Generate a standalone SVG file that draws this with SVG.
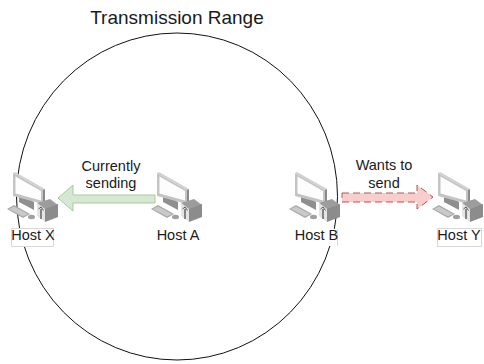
<svg xmlns="http://www.w3.org/2000/svg" width="484" height="364" viewBox="0 0 484 364">
<style>
text{font-family:"Liberation Sans",Arial,sans-serif;font-size:14.500px;fill:#1a1a1a;text-anchor:middle}
.title{font-size:19px}
.lb{fill:#fff;stroke:#d8d8d8;stroke-width:1}
</style>
<defs>
<g id="pc">
<path d="M12 22 L27 30 L27 38 L12 30Z" fill="#8f8f8f"/>
<path d="M6 1 L8 0 L38 17 L36 18Z" fill="#d0d0d0"/>
<path d="M36 18 L38 17 L38 31 L36 32Z" fill="#8a8a8a"/>
<path d="M6 1 L36 18 L36 32 L6 24Z" fill="#c4c4c4"/>
<path d="M8.500 4.500 L34 19 L34 28.500 L8.500 21.500Z" fill="#fdfdfd"/>
<path d="M0 37 L7 33 L23 42 L16 46Z" fill="#a8a8a8"/>
<path d="M2 37 L7 34.500 L21 42 L16 44.500Z" fill="#c9c9c9"/>
<ellipse cx="24.500" cy="45" rx="3.500" ry="2.200" fill="#a0a0a0"/>
<path d="M30 31 L43 27 L51 33 L38 38Z" fill="#9d9d9d"/>
<path d="M30 31 L38 37 L38 50 L30 44Z" fill="#e4e4e4"/>
<path d="M38 37 L51 32 L51 45 L38 50Z" fill="#8c8c8c"/>
<path d="M34 37 L34 47" stroke="#444" stroke-width="1.200" fill="none"/>
<path d="M31.500 37 L34 35 L36.500 38.500" stroke="#555" stroke-width="1" fill="none"/>
</g>
</defs>
<ellipse cx="177" cy="196.500" rx="160.500" ry="163.500" fill="#fff" stroke="#111" stroke-width="1"/>
<g id="connectors">
<path id="arrow-a-x" d="M155 195 L155 203 L73 203 L73 211 L58 198 L73 185 L73 195Z" fill="#d5e8d4" stroke="#a9cb94" stroke-width="1"/>
<path id="arrow-b-y" d="M342 193 L417 193 L417 185 L433 197 L417 209 L417 202 L342 202Z" fill="#f8cecc" stroke="#b85450" stroke-width="1" stroke-dasharray="7 4"/>
</g>
<text class="title" x="177" y="24">Transmission Range</text>
<g id="host-x"><use href="#pc" x="7" y="172"/><rect class="lb" x="11.500" y="228.500" width="42" height="18"/><text x="33" y="240">Host X</text></g>
<g id="host-a"><use href="#pc" x="151" y="172"/><text x="178" y="240">Host A</text></g>
<g id="host-b"><use href="#pc" x="289" y="172"/><rect x="294" y="229" width="45" height="17" class="lb" style="stroke:none"/><path d="M337.500 229 V246" stroke="#d8d8d8" fill="none"/><text x="316.500" y="240">Host B</text></g>
<g id="host-y"><use href="#pc" x="432" y="172"/><rect class="lb" x="437.500" y="228.500" width="44" height="18"/><text x="459" y="240">Host Y</text></g>
<g id="labels"><text x="111" y="171">Currently</text><text x="111" y="188">sending</text><text x="384" y="170">Wants to</text><text x="384" y="188">send</text></g>
</svg>
